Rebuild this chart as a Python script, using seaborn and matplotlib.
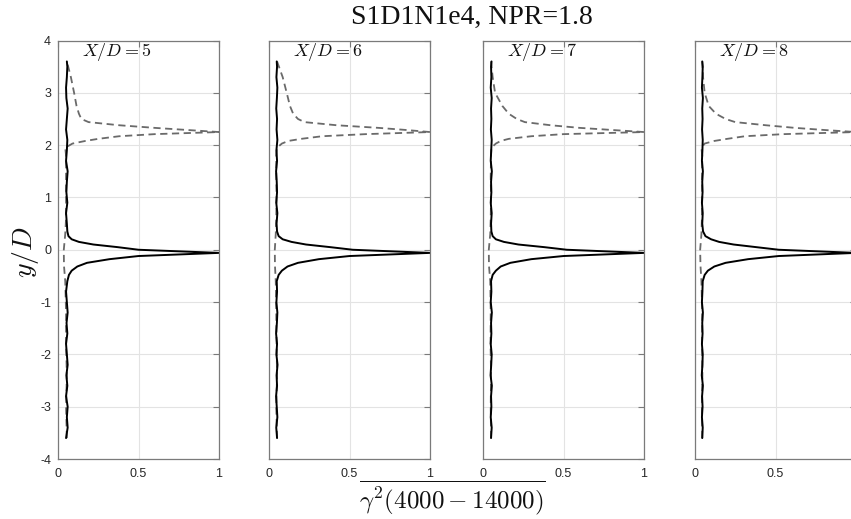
import matplotlib
matplotlib.use("Agg")
import matplotlib.pyplot as plt
import seaborn as sns

# stations X/D
stations = [5, 6, 7, 8]

# y/D grid of the solid profile (peak near the lower shear layer)
solid_y = [-3.6, -3.4, -3.2, -3.0, -2.8, -2.6, -2.4, -2.2, -2.0, -1.8, -1.6, -1.4,
           -1.2, -1.0, -0.8, -0.6, -0.48, -0.4, -0.32, -0.25, -0.18, -0.12, -0.06,
           0.0, 0.05, 0.1, 0.15, 0.2, 0.26, 0.35, 0.5, 0.7, 0.9, 1.1, 1.3, 1.5, 1.7,
           1.9, 2.1, 2.3, 2.5, 2.7, 2.9, 3.1, 3.3, 3.5, 3.6]

solid_x5 = [0.05, 0.06, 0.055, 0.06, 0.05, 0.058, 0.052, 0.06, 0.055, 0.05, 0.058, 0.053,
            0.06, 0.055, 0.05, 0.058, 0.068, 0.085, 0.12, 0.18, 0.32, 0.5, 1.0,
            0.5, 0.37, 0.22, 0.13, 0.085, 0.065, 0.058, 0.055, 0.05, 0.058, 0.052, 0.055,
            0.06, 0.05, 0.055, 0.058, 0.05, 0.055, 0.06, 0.052, 0.05, 0.055, 0.058, 0.055]
solid_x6 = [0.05, 0.045, 0.052, 0.048, 0.044, 0.05, 0.047, 0.053, 0.046, 0.05, 0.044, 0.049,
            0.052, 0.046, 0.05, 0.048, 0.06, 0.08, 0.115, 0.18, 0.31, 0.5, 1.0,
            0.52, 0.38, 0.23, 0.14, 0.085, 0.06, 0.05, 0.047, 0.052, 0.045, 0.05, 0.048,
            0.044, 0.05, 0.046, 0.052, 0.047, 0.05, 0.045, 0.049, 0.052, 0.046, 0.05, 0.048]
solid_x7 = [0.05, 0.054, 0.048, 0.052, 0.05, 0.055, 0.047, 0.051, 0.054, 0.048, 0.052, 0.05,
            0.055, 0.048, 0.052, 0.05, 0.06, 0.08, 0.11, 0.17, 0.3, 0.5, 1.0,
            0.52, 0.38, 0.22, 0.13, 0.08, 0.06, 0.052, 0.05, 0.054, 0.048, 0.052, 0.05,
            0.055, 0.048, 0.051, 0.054, 0.049, 0.052, 0.05, 0.054, 0.048, 0.052, 0.05, 0.053]
solid_x8 = [0.045, 0.048, 0.043, 0.047, 0.044, 0.049, 0.042, 0.046, 0.048, 0.043, 0.047, 0.045,
            0.049, 0.043, 0.046, 0.048, 0.06, 0.08, 0.12, 0.19, 0.33, 0.52, 1.0,
            0.52, 0.38, 0.24, 0.15, 0.1, 0.065, 0.05, 0.045, 0.048, 0.043, 0.047, 0.045,
            0.049, 0.043, 0.046, 0.048, 0.044, 0.047, 0.045, 0.049, 0.043, 0.046, 0.048, 0.045]

# y/D grid of the dashed profile (peak near the upper shear layer)
dashed_y = [-3.6, -3.0, -2.4, -1.8, -1.2, -0.6, -0.3, 0.0, 0.3, 0.6, 1.0, 1.4, 1.8,
            1.95, 2.03, 2.08, 2.12, 2.17, 2.21, 2.25, 2.29, 2.33, 2.38, 2.44, 2.5,
            2.6, 2.75, 3.0, 3.3, 3.6]

dashed_x5 = [0.055, 0.05, 0.055, 0.05, 0.05, 0.045, 0.037, 0.036, 0.045, 0.05, 0.05, 0.05, 0.05,
             0.045, 0.09, 0.17, 0.25, 0.38, 0.6, 1.0, 0.8, 0.6, 0.38, 0.19, 0.145,
             0.13, 0.115, 0.1, 0.08, 0.055]
dashed_x6 = [0.05, 0.045, 0.05, 0.047, 0.045, 0.042, 0.037, 0.036, 0.042, 0.045, 0.047, 0.045, 0.045,
             0.05, 0.08, 0.12, 0.2, 0.33, 0.6, 1.0, 0.85, 0.68, 0.42, 0.22, 0.18,
             0.15, 0.13, 0.11, 0.085, 0.05]
dashed_x7 = [0.05, 0.048, 0.05, 0.047, 0.048, 0.045, 0.037, 0.036, 0.045, 0.048, 0.05, 0.048, 0.05,
             0.052, 0.08, 0.11, 0.16, 0.3, 0.5, 1.0, 0.8, 0.6, 0.42, 0.26, 0.21,
             0.16, 0.12, 0.075, 0.06, 0.05]
dashed_x8 = [0.045, 0.043, 0.046, 0.044, 0.045, 0.04, 0.034, 0.032, 0.04, 0.043, 0.045, 0.044, 0.045,
             0.04, 0.06, 0.12, 0.2, 0.31, 0.55, 1.0, 0.8, 0.62, 0.44, 0.25, 0.19,
             0.13, 0.085, 0.06, 0.05, 0.045]

solid_sets = [solid_x5, solid_x6, solid_x7, solid_x8]
dashed_sets = [dashed_x5, dashed_x6, dashed_x7, dashed_x8]

x_ticks = [0, 0.5, 1]
x_tick_labels = ["0", "0.5", "1"]
y_ticks = [-4, -3, -2, -1, 0, 1, 2, 3, 4]

sns.set_style("white")
plt.rcParams["font.family"] = ["Liberation Sans", "DejaVu Sans"]
plt.rcParams["mathtext.fontset"] = "cm"

fig = plt.figure(figsize=(8.51, 5.19), dpi=100)
lefts = [58, 269, 483, 695]
axes = [fig.add_axes([l / 851, 1 - 459 / 519, 161 / 851, 418.5 / 519]) for l in lefts]

edge = "#7a7a7a"
for i, ax in enumerate(axes):
    sns.lineplot(x=dashed_sets[i], y=dashed_y, sort=False, estimator=None, ax=ax,
                 color="#6a6a6a", linewidth=1.3, linestyle=(0, (4, 2.5)))
    sns.lineplot(x=solid_sets[i], y=solid_y, sort=False, estimator=None, ax=ax,
                 color="black", linewidth=1.4)
    ax.set_xlim(0, 1)
    ax.set_ylim(-4, 4)
    ax.set_xticks(x_ticks)
    # the last panel runs past the figure edge, its "1" is not shown
    ax.set_xticklabels(x_tick_labels if i < 3 else x_tick_labels[:2] + [""])
    ax.set_yticks(y_ticks)
    if i == 0:
        ax.set_yticklabels([str(v) for v in y_ticks])
    else:
        ax.set_yticklabels([])
    ax.grid(True, color="#e3e3e3", linewidth=0.8)
    ax.set_axisbelow(True)
    ax.tick_params(direction="in", length=4, width=0.8, color=edge, labelsize=9,
                   labelcolor="#262626", top=True, right=True)
    ax.tick_params(axis="x", pad=6.5)
    ax.tick_params(axis="y", pad=5)
    for s in ax.spines.values():
        s.set_color(edge)
        s.set_linewidth(0.9)
    ax.set_xlabel("")
    ax.set_ylabel("")
    ax.text(0.15, 0.998, rf"$X/D={stations[i]}$", transform=ax.transAxes,
            ha="left", va="top", fontsize=13, color="#111111")

fig.text(0.555, 0.99, "S1D1N1e4, NPR=1.8", ha="center", va="top",
         fontsize=20, family=["Liberation Serif", "DejaVu Serif"], color="#111111")
fig.text(0.03, 0.515, r"$y/D$", rotation=90, ha="center", va="center",
         fontsize=20, color="#111111")
fig.text(0.532, 0.003, r"$\overline{\gamma^2(4000-14000)}$", ha="center", va="bottom",
         fontsize=18, color="#111111")

fig.savefig("out.png", dpi=100)
